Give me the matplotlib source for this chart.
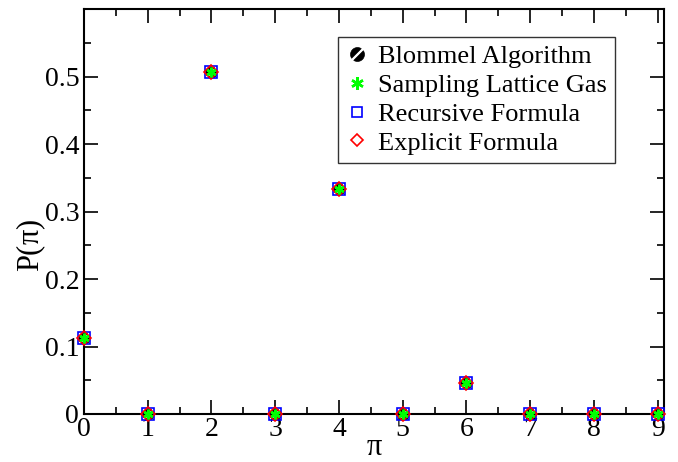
import numpy as np
import matplotlib.pyplot as plt
from matplotlib.lines import Line2D
from matplotlib.path import Path
from matplotlib.ticker import MultipleLocator

plt.rcParams['font.family'] = ['Liberation Serif', 'DejaVu Serif']
plt.rcParams['mathtext.fontset'] = 'custom'
plt.rcParams['mathtext.rm'] = 'Liberation Serif'
plt.rcParams['mathtext.it'] = 'Liberation Serif'

# Distribution of pi
pi_vals = [0, 1, 2, 3, 4, 5, 6, 7, 8, 9]
blommel = [0.112, 0.0, 0.507, 0.0, 0.333, 0.0, 0.046, 0.0, 0.0, 0.0]
lattice_gas = [0.112, 0.0, 0.507, 0.0, 0.333, 0.0, 0.046, 0.0, 0.0, 0.0]
recursive = [0.112, 0.0, 0.507, 0.0, 0.333, 0.0, 0.046, 0.0, 0.0, 0.0]
explicit = [0.112, 0.0, 0.507, 0.0, 0.333, 0.0, 0.046, 0.0, 0.0, 0.0]


def slashed_circle(gap=0.22, n=30):
    # filled disk with a white "/" band cut out (two circular segments)
    alpha = np.arccos(gap)
    verts, codes = [], []
    for c in (-np.pi / 4, 3 * np.pi / 4):
        t = np.linspace(c - alpha, c + alpha, n)
        pts = list(zip(np.cos(t), np.sin(t)))
        verts += pts + [pts[0]]
        codes += [Path.MOVETO] + [Path.LINETO] * (n - 1) + [Path.CLOSEPOLY]
    return Path(verts, codes)


bl_marker = slashed_circle()
asterisk = (6, 2, 0)

fig = plt.figure(figsize=(6.78, 4.62), dpi=100)
ax = fig.add_axes([0.1239, 0.1039, 0.8555, 0.8766])

ax.plot(pi_vals, blommel, ls='none', marker=bl_marker, ms=8, mfc='black', mec='black', mew=0.5,
        clip_on=False, zorder=3)
ax.plot(pi_vals, recursive, ls='none', marker='s', ms=8, mfc='none', mec='blue', mew=1.2, clip_on=False, zorder=4)
ax.plot(pi_vals, explicit, ls='none', marker='D', ms=7, mfc='none', mec='red', mew=1.2, clip_on=False, zorder=5)
ax.plot(pi_vals, lattice_gas, ls='none', marker=asterisk, ms=7, mec='#00ff00', mew=1.8, clip_on=False, zorder=6)

ax.set_xlim(0, 9.1)
ax.set_ylim(0, 0.6)
ax.xaxis.set_major_locator(MultipleLocator(1))
ax.xaxis.set_minor_locator(MultipleLocator(0.5))
ax.yaxis.set_minor_locator(MultipleLocator(0.05))
ax.set_yticks([0, 0.1, 0.2, 0.3, 0.4, 0.5])
ax.set_yticklabels(['0', '0.1', '0.2', '0.3', '0.4', '0.5'])
ax.tick_params(which='both', direction='in', top=True, right=True, labelsize=20, width=1.2)
ax.tick_params(which='major', length=10)
ax.tick_params(which='minor', length=5)
ax.tick_params(axis='x', pad=2)
for s in ax.spines.values():
    s.set_linewidth(1.5)

ax.set_xlabel(r'$\pi$', fontsize=22, labelpad=-6)
ax.set_ylabel(r'P($\pi$)', fontsize=22)
ax.yaxis.set_label_coords(-0.062, 0.4167)

h_bl = Line2D([], [], ls='none', marker=bl_marker, ms=10, mfc='black', mec='black', mew=0.5)
h_lg = Line2D([], [], ls='none', marker=asterisk, ms=9, mec='#00ff00', mew=1.8)
h_rf = Line2D([], [], ls='none', marker='s', ms=7, mfc='none', mec='blue', mew=1.2)
h_ef = Line2D([], [], ls='none', marker='D', ms=6.5, mfc='none', mec='red', mew=1.2)
leg = ax.legend([h_bl, h_lg, h_rf, h_ef],
                ['Blommel Algorithm', 'Sampling Lattice Gas', 'Recursive Formula', 'Explicit Formula'],
                loc='upper left', bbox_to_anchor=(0.4387, 0.931), fontsize=19,
                frameon=True, fancybox=False, edgecolor='black', handlelength=0.8,
                handletextpad=0.4, labelspacing=0.2, borderpad=0.3, borderaxespad=0)
leg.get_frame().set_linewidth(1.0)

fig.savefig('out.png', dpi=100)
